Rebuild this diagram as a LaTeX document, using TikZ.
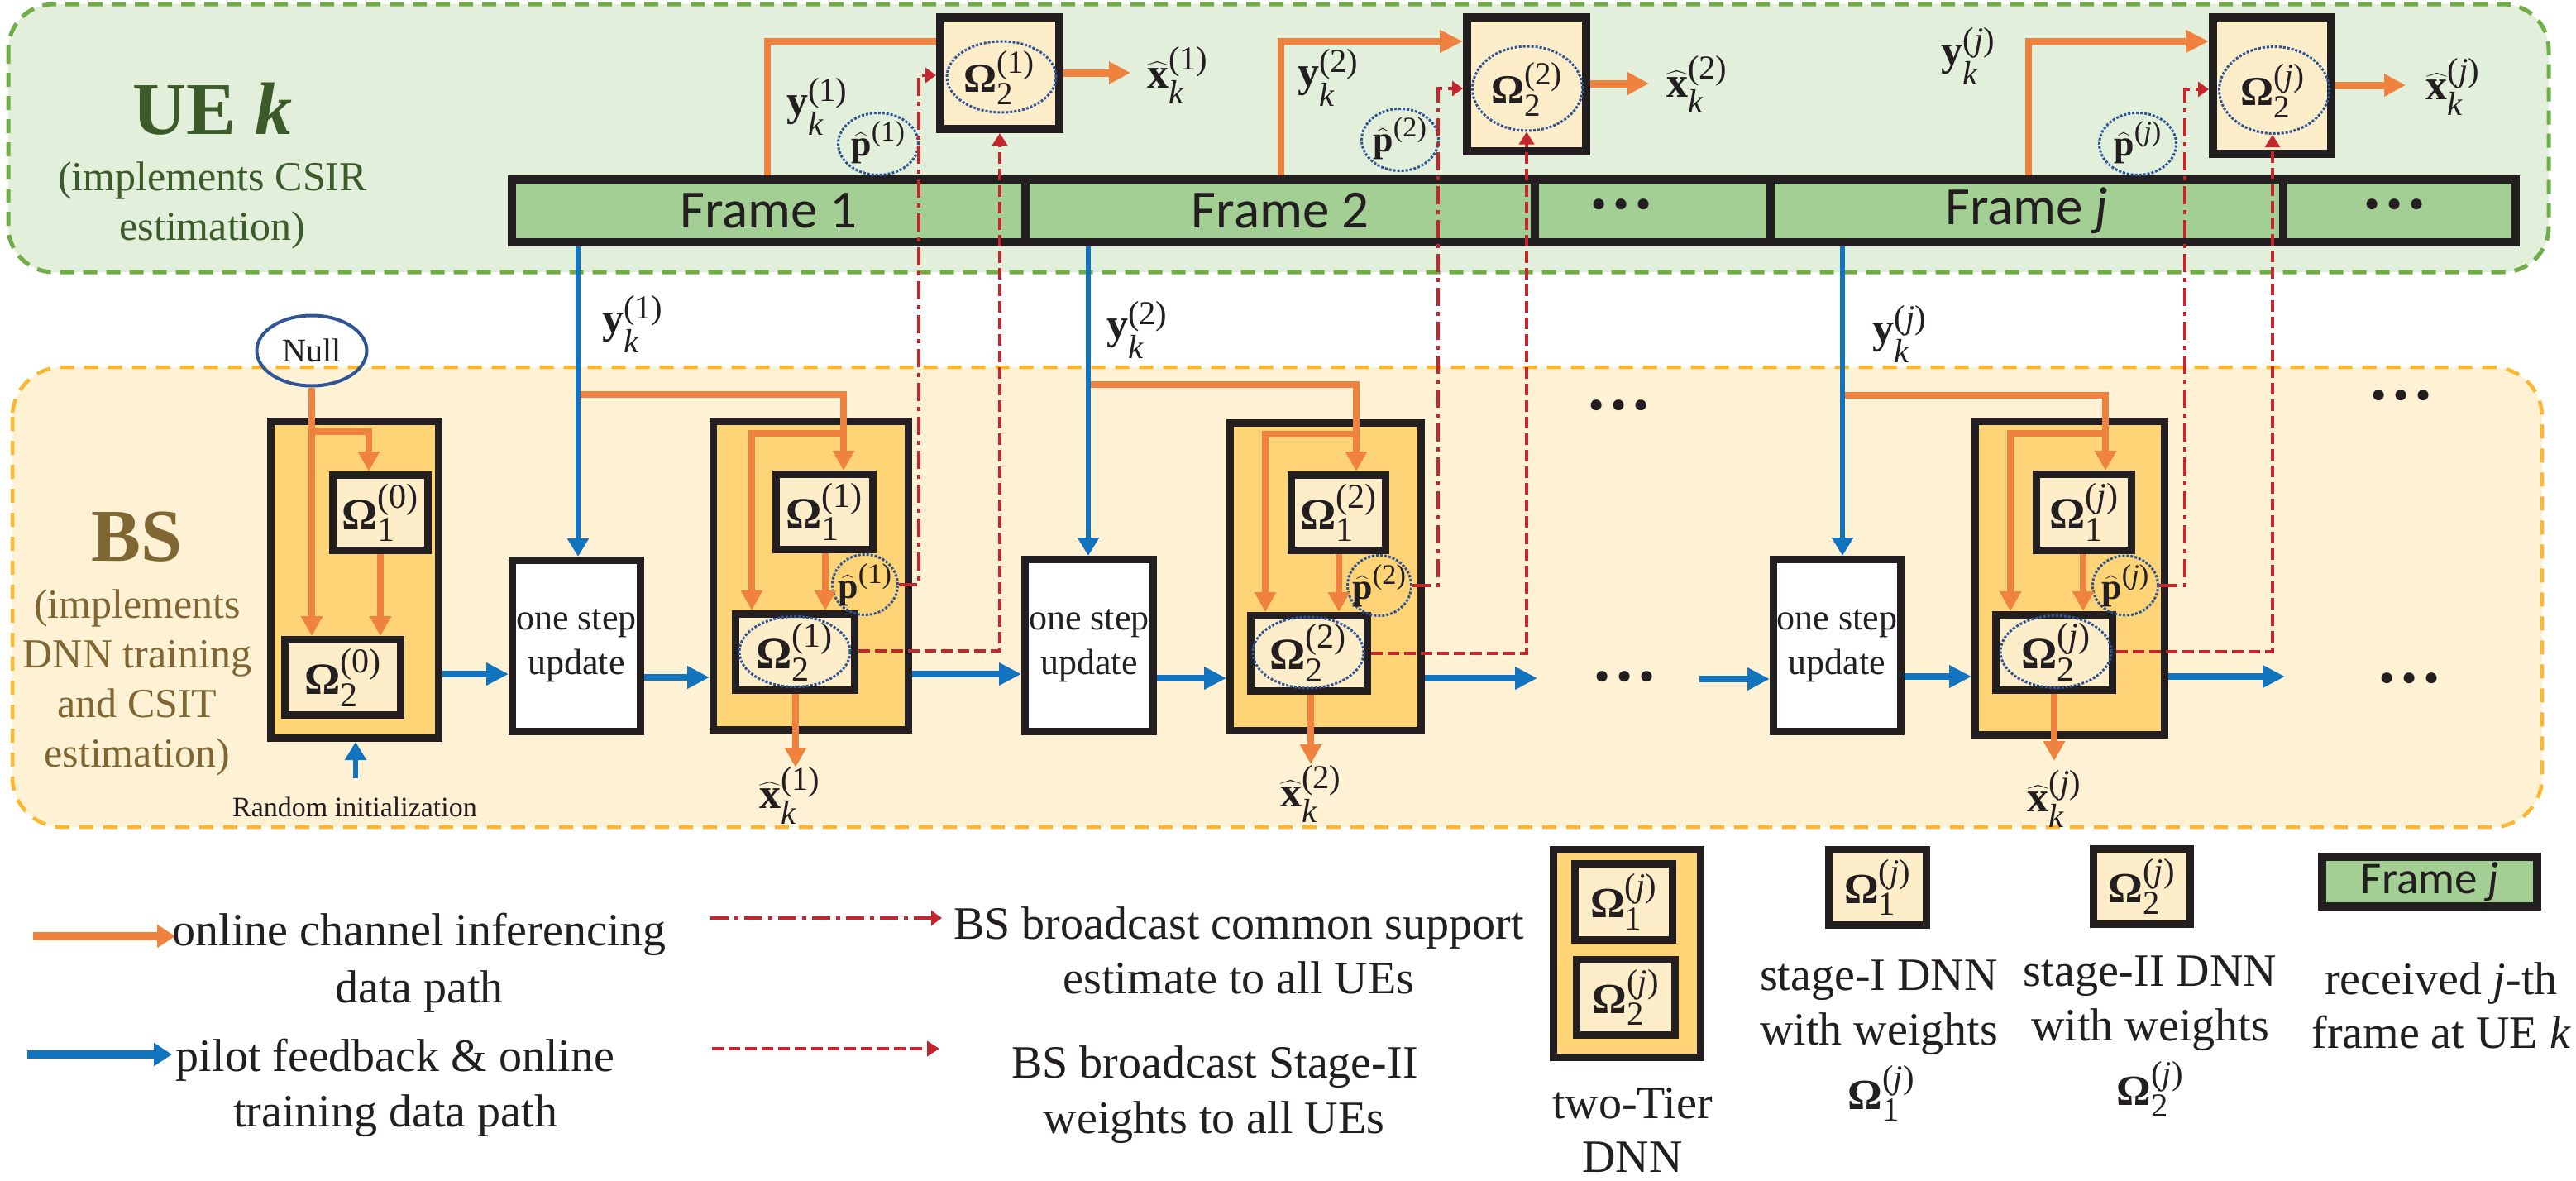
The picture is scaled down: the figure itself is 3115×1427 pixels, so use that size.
\documentclass[tikz,border=0pt]{standalone}
\usepackage{amsmath}
\usepackage[no-math]{fontspec}
\setmainfont{Liberation Serif}
\newfontfamily\calib{Carlito}
\usetikzlibrary{arrows.meta,shapes.geometric}
\renewcommand{\defaultscriptratio}{.78}
\definecolor{uefill}{HTML}{E2EFDA}
\definecolor{uedash}{HTML}{70AD47}
\definecolor{bsfill}{HTML}{FFF1D4}
\definecolor{bsdash}{HTML}{FBB72F}
\definecolor{tierc}{HTML}{FED477}
\definecolor{cream}{HTML}{FEEDC9}
\definecolor{framec}{HTML}{A3CF94}
\definecolor{orng}{HTML}{F0823F}
\definecolor{blu}{HTML}{1273BE}
\definecolor{rd}{HTML}{C4262E}
\definecolor{ellb}{HTML}{2F5597}
\definecolor{dark}{HTML}{231F20}
\definecolor{uegreen}{HTML}{3D5A2A}
\definecolor{bsbrown}{HTML}{7F6633}
\newcommand{\Om}[2]{$\text{\bfseries Ω}_{\text{#1}}^{\text{(#2)}}$}
\newcommand{\yk}[1]{$\text{\bfseries y}_{\text{\itshape k}}^{\text{(#1)}}$}
\newcommand{\xk}[1]{$\widehat{\text{\bfseries x}}_{\text{\itshape k}}^{\text{(#1)}}$}
\newcommand{\ph}[1]{$\widehat{\text{\bfseries p}}^{\text{(#1)}}$}
\newcommand{\jj}{\textit{j}}
\newcommand{\bnode}[7]{\node[#2, minimum width={#5-#3-9}, minimum height={#6-#4-9}] (#1) at ({(#3+#5)/2},{(#4+#6)/2}) {#7};}
\begin{document}
\begin{tikzpicture}[x=1pt,y=-1pt,
  tbox/.style={draw=dark, line width=9pt, fill=tierc, inner sep=0pt},
  ibox/.style={draw=dark, line width=9pt, fill=cream, inner sep=0pt},
  ubox/.style={draw=dark, line width=10pt, fill=cream, inner sep=0pt},
  obox/.style={draw=dark, line width=9pt, fill=white, inner sep=0pt, align=center, font=\fontsize{44}{54}\selectfont, text=dark},
  frm/.style={draw=dark, line width=10pt, fill=framec, inner sep=0pt, text=dark, font=\calib\fontsize{65}{65}\selectfont},
  ell/.style={ellipse, draw=ellb, line width=3pt, dash pattern=on 3pt off 2pt, inner sep=0pt},
  lab/.style={inner sep=0pt, text=dark},
  mth/.style={lab, font=\fontsize{52}{52}\selectfont},
  mthb/.style={lab, font=\fontsize{54}{54}\selectfont},
  mthp/.style={lab, font=\fontsize{44}{44}\selectfont},
  lg/.style={lab, anchor=base, font=\fontsize{56}{56}\selectfont},
  dots/.style={lab, font=\bfseries\fontsize{80}{80}\selectfont},
  orT/.style={draw=orng, line width=8pt, -{Triangle[length=24pt,width=25pt]}},
  orU/.style={draw=orng, line width=8pt},
  orUT/.style={draw=orng, line width=8pt, -{Triangle[length=28pt,width=26pt]}},
  orO/.style={draw=orng, line width=9pt, -{Triangle[length=26pt,width=26pt]}},
  orL/.style={draw=orng, line width=10pt, -{Triangle[length=22pt,width=27pt]}},
  blT/.style={draw=blu, line width=6pt, -{Triangle[length=22pt,width=25pt]}},
  blO/.style={draw=blu, line width=8pt, -{Triangle[length=27pt,width=26pt]}},
  blL/.style={draw=blu, line width=10pt, -{Triangle[length=22pt,width=27pt]}},
  rdd/.style={draw=rd, line width=4.5pt, dash pattern=on 22pt off 7pt on 5pt off 7pt, -{Triangle[length=13pt,width=18pt]}},
  rda/.style={draw=rd, line width=4.5pt, dash pattern=on 14pt off 6pt, -{Triangle[length=15pt,width=18pt]}}
]
\useasboundingbox (0,0) rectangle (3115,1427);
\fill[white] (0,0) rectangle (3115,1427);
% regions
\draw[draw=uedash, fill=uefill, line width=5pt, dash pattern=on 17pt off 11pt, rounded corners=55pt] (10,5) rectangle (3082,329);
\draw[draw=bsdash, fill=bsfill, line width=4.5pt, dash pattern=on 17pt off 12pt, rounded corners=60pt] (15,444) rectangle (3074,1000);
% titles
\node[lab, text=uegreen, font=\bfseries\fontsize{90}{90}\selectfont, anchor=base] (uet) at (257,162) {UE \textit{k}};
\node[lab, text=uegreen, font=\fontsize{50}{50}\selectfont, anchor=base] (uet2) at (257,230) {(implements CSIR};
\node[lab, text=uegreen, font=\fontsize{50}{50}\selectfont, anchor=base] (uet3) at (257,290) {estimation)};
\node[lab, text=bsbrown, font=\bfseries\fontsize{90}{90}\selectfont, anchor=base] (bst) at (166,678) {BS};
\node[lab, text=bsbrown, font=\fontsize{50}{50}\selectfont, anchor=base] (bs1) at (166,747) {(implements};
\node[lab, text=bsbrown, font=\fontsize{50}{50}\selectfont, anchor=base] (bs2) at (166,807) {DNN training};
\node[lab, text=bsbrown, font=\fontsize{50}{50}\selectfont, anchor=base] (bs3) at (166,867) {and CSIT};
\node[lab, text=bsbrown, font=\fontsize{50}{50}\selectfont, anchor=base] (bs4) at (166,927) {estimation)};
% frames
\node[frm, minimum width=621pt, minimum height=76pt] (f1) at (929.5,255) {Frame 1};
\node[frm, minimum width=616pt, minimum height=76pt] (f2) at (1548,255) {Frame 2};
\node[frm, minimum width=285pt, minimum height=76pt] (fd1) at (1998.5,255) {};
\node[frm, minimum width=620pt, minimum height=76pt] (fj) at (2451,255) {Frame \textit{j}};
\node[frm, minimum width=281pt, minimum height=76pt] (fd2) at (2901.5,255) {};
\node[dots] (dt1) at (1960,247) {…};
\node[dots] (dt2) at (2895,247) {…};
% UE boxes
\node[ubox, minimum width=144pt, minimum height=135pt] (u1) at (1209,88.5) {};
\node[ubox, minimum width=144pt, minimum height=162pt] (u2) at (1846,102) {};
\node[ubox, minimum width=143pt, minimum height=165pt] (uj) at (2747.5,103.5) {};
% BS tier boxes
\bnode{t0}{tbox}{323}{505}{535}{897}{}
\bnode{t1}{tbox}{858}{505}{1103}{887}{}
\bnode{t2}{tbox}{1483}{507}{1723}{888}{}
\bnode{tj}{tbox}{2384}{505}{2622}{893}{}
\bnode{a0}{ibox}{398}{570}{522}{670}{}
\bnode{a1}{ibox}{934}{569}{1060}{669}{}
\bnode{a2}{ibox}{1557}{570}{1680}{670}{}
\bnode{aj}{ibox}{2458}{569}{2582}{670}{}
\bnode{b0}{ibox}{340}{769}{489}{869}{}
\bnode{b1}{ibox}{885}{738}{1038}{839}{}
\bnode{b2}{ibox}{1508}{740}{1658}{840}{}
\bnode{bj}{ibox}{2409}{739}{2559}{839}{}
\bnode{s1}{obox}{615}{673}{779}{889}{one step\\update}
\bnode{s2}{obox}{1235}{672}{1399}{889}{one step\\update}
\bnode{sj}{obox}{2140}{672}{2303}{889}{one step\\update}
% legend boxes
\bnode{lt}{tbox}{1874}{1023}{2061}{1283}{}
\bnode{lt1}{ibox}{1900}{1040}{2027}{1141}{}
\bnode{lt2}{ibox}{1902}{1156}{2030}{1256}{}
\bnode{lw1}{ibox}{2207}{1023}{2334}{1123}{}
\bnode{lw2}{ibox}{2527}{1022}{2653}{1122}{}
\node[frm, minimum width=260pt, minimum height=60pt, font=\calib\fontsize{55}{55}\selectfont] (lfr) at (2938,1066) {Frame \textit{j}};
% ellipses
\node[ell, minimum width=132pt, minimum height=86pt] (e1) at (1211,93) {};
\node[ell, minimum width=133pt, minimum height=102pt] (e2) at (1847,107) {};
\node[ell, minimum width=133pt, minimum height=105pt] (ej) at (2750,109) {};
\node[ell, minimum width=97pt, minimum height=75pt] (pu1) at (1062,174) {};
\node[ell, minimum width=93pt, minimum height=75pt] (pu2) at (1693,169) {};
\node[ell, minimum width=93pt, minimum height=75pt] (puj) at (2585,174) {};
\node[ell, minimum width=134pt, minimum height=85pt] (g1) at (961,788) {};
\node[ell, minimum width=134pt, minimum height=86pt] (g2) at (1582,789) {};
\node[ell, minimum width=134pt, minimum height=87pt] (gj) at (2486,788) {};
\node[ell, minimum width=79pt, minimum height=73pt] (p1) at (1046,707) {};
\node[ell, minimum width=77pt, minimum height=73pt] (p2) at (1668,708) {};
\node[ell, minimum width=79pt, minimum height=72pt] (pj) at (2570,708) {};
\node[ellipse, draw=ellb, line width=4pt, minimum width=133pt, minimum height=85pt, inner sep=0pt, text=dark, font=\fontsize{40}{40}\selectfont] (nl) at (377,424) {Null};
% coordinates
\coordinate (k1) at (928,50); \coordinate (k2) at (1549,50); \coordinate (kj) at (2453,50);
\coordinate (xo1) at (1367,88); \coordinate (xo2) at (1994,101); \coordinate (xoj) at (2909,103);
\coordinate (r1) at (1111,707); \coordinate (r1t) at (1111,91);
\coordinate (r2) at (1739,708); \coordinate (r2t) at (1739,107);
\coordinate (rj) at (2642,708); \coordinate (rjt) at (2642,108);
\coordinate (q1) at (1209,787); \coordinate (q2) at (1846,790); \coordinate (qj) at (2748,788);
\coordinate (n1) at (377,522); \coordinate (n2) at (446,522); \coordinate (m0) at (460,700);
\coordinate (bl1) at (699,477); \coordinate (c1) at (1020,477); \coordinate (d1) at (1020,524); \coordinate (d1b) at (909,524); \coordinate (m1) at (998,700); \coordinate (xb1) at (962,928);
\coordinate (bl2) at (1316,465); \coordinate (c2) at (1640,465); \coordinate (d2) at (1640,525); \coordinate (d2b) at (1530,525); \coordinate (m2) at (1619,700); \coordinate (xb2) at (1585,924);
\coordinate (blj) at (2228,478); \coordinate (cj) at (2546,478); \coordinate (dj) at (2546,524); \coordinate (djb) at (2431,524); \coordinate (mj) at (2519,700); \coordinate (xbj) at (2484,920);
\coordinate (h1) at (0,815); \coordinate (h2) at (0,819); \coordinate (h3) at (0,815); \coordinate (h4) at (0,820);
\coordinate (h5) at (1859,820); \coordinate (h6) at (2055,821); \coordinate (h7) at (0,818); \coordinate (h8) at (2763,818);
\coordinate (ri) at (430,941);
% UE orange
\draw[orU] (f1.north -| k1) -- (k1) -- (k1 -| u1.west);
\draw[orUT] (f2.north -| k2) -- (k2) -- (k2 -| u2.west);
\draw[orUT] (fj.north -| kj) -- (kj) -- (kj -| uj.west);
\draw[orO] (u1.east |- xo1) -- (xo1);
\draw[orO] (u2.east |- xo2) -- (xo2);
\draw[orO] (uj.east |- xoj) -- (xoj);
% BS orange
\draw[orT] (nl.south) -- (nl.south |- b0.north);
\draw[orT] (n1) -- (n2) -- (n2 |- a0.north);
\draw[orT] (a0.south -| m0) -- (b0.north -| m0);
\draw[orT] (bl1) -- (c1) -- (c1 |- a1.north);
\draw[orT] (d1) -- (d1b) -- (d1b |- b1.north);
\draw[orT] (a1.south -| m1) -- (b1.north -| m1);
\draw[orT] (b1.south -| xb1) -- (xb1);
\draw[orT] (bl2) -- (c2) -- (c2 |- a2.north);
\draw[orT] (d2) -- (d2b) -- (d2b |- b2.north);
\draw[orT] (a2.south -| m2) -- (b2.north -| m2);
\draw[orT] (b2.south -| xb2) -- (xb2);
\draw[orT] (blj) -- (cj) -- (cj |- aj.north);
\draw[orT] (dj) -- (djb) -- (djb |- bj.north);
\draw[orT] (aj.south -| mj) -- (bj.north -| mj);
\draw[orT] (bj.south -| xbj) -- (xbj);
% blue
\draw[blT] (f1.south -| bl1) -- (s1.north -| bl1);
\draw[blT] (f2.south -| bl2) -- (s2.north -| bl2);
\draw[blT] (fj.south -| blj) -- (sj.north -| blj);
\draw[blO] (t0.east |- h1) -- (s1.west |- h1);
\draw[blO] (s1.east |- h2) -- (t1.west |- h2);
\draw[blO] (t1.east |- h3) -- (s2.west |- h3);
\draw[blO] (s2.east |- h4) -- (t2.west |- h4);
\draw[blO] (t2.east |- h5) -- (h5);
\draw[blO] (h6) -- (sj.west |- h6);
\draw[blO] (sj.east |- h7) -- (tj.west |- h7);
\draw[blO] (tj.east |- h8) -- (h8);
\draw[blT] (ri) -- (ri |- t0.south);
% red
\draw[rdd] (p1.east) -- (p1.east -| r1) -- (r1t) -- (r1t -| u1.west);
\draw[rdd] (p2.east) -- (p2.east -| r2) -- (r2t) -- (r2t -| u2.west);
\draw[rdd] (pj.east) -- (pj.east -| rj) -- (rjt) -- (rjt -| uj.west);
\draw[rda] (b1.east |- q1) -- (q1) -- (q1 |- u1.south);
\draw[rda] (b2.east |- q2) -- (q2) -- (q2 |- e2.south);
\draw[rda] (bj.east |- qj) -- (qj) -- (qj |- ej.south);
% labels UE
\node[mth, font=\fontsize{50}{50}\selectfont] at (1208,94) {\Om{2}{1}};
\node[mth, font=\fontsize{50}{50}\selectfont] at (1846,108) {\Om{2}{2}};
\node[mth, font=\fontsize{50}{50}\selectfont] at (2748,110) {\Om{2}{\jj}};
\node[mthp] at (1062,172) {\ph{1}};
\node[mthp] at (1693,167) {\ph{2}};
\node[mthp] at (2585,172) {\ph{\jj}};
\node[mth] at (988,129) {\yk{1}};
\node[mth] at (1606,94) {\yk{2}};
\node[mth] at (2380,68) {\yk{\jj}};
\node[mth] at (1424,91) {\xk{1}};
\node[mth] at (2052,102) {\xk{2}};
\node[mth] at (2966,105) {\xk{\jj}};
\node[mth] at (765,392) {\yk{1}};
\node[mth] at (1375,399) {\yk{2}};
\node[mth] at (2297,404) {\yk{\jj}};
% labels BS
\node[mthb] at (a0) {\Om{1}{0}};
\node[mthb] at (b0) {\Om{2}{0}};
\node[mthb] at (a1) {\Om{1}{1}};
\node[mthb] at (g1) {\Om{2}{1}};
\node[mthb] at (a2) {\Om{1}{2}};
\node[mthb] at (g2) {\Om{2}{2}};
\node[mthb] at (aj) {\Om{1}{\jj}};
\node[mthb] at (gj) {\Om{2}{\jj}};
\node[mthp] at (p1) {\ph{1}};
\node[mthp] at (p2) {\ph{2}};
\node[mthp] at (pj) {\ph{\jj}};
\node[mth] at (955,962) {\xk{1}};
\node[mth] at (1585,960) {\xk{2}};
\node[mth] at (2484,966) {\xk{\jj}};
\node[lab, anchor=base, font=\fontsize{34}{34}\selectfont] (rin) at (429,987) {Random initialization};
\node[dots] at (1957,490) {…};
\node[dots] at (1964,818) {…};
\node[dots] at (2903,478) {…};
\node[dots] at (2913,820) {…};
% legend
\coordinate (lo1) at (40,1132); \coordinate (lo2) at (212,1132);
\coordinate (lb1) at (33,1275); \coordinate (lb2) at (208,1275);
\coordinate (lr1) at (859,1110); \coordinate (lr2) at (1139,1110);
\coordinate (ld1) at (861,1268); \coordinate (ld2) at (1136,1268);
\draw[orL] (lo1) -- (lo2);
\draw[blL] (lb1) -- (lb2);
\draw[rdd] (lr1) -- (lr2);
\draw[rda] (ld1) -- (ld2);
\node[lg] at (507,1143) {online channel inferencing};
\node[lg] at (507,1212) {data path};
\node[lg] at (478,1295) {pilot feedback \& online};
\node[lg] at (478,1362) {training data path};
\node[lg] at (1498,1135) {BS broadcast common support};
\node[lg] at (1498,1201) {estimate to all UEs};
\node[lg] at (1469,1303) {BS broadcast Stage-II};
\node[lg] at (1468,1370) {weights to all UEs};
\node[mth] at (lt1) {\Om{1}{\jj}};
\node[mth] at (lt2) {\Om{2}{\jj}};
\node[mth] at (lw1) {\Om{1}{\jj}};
\node[mth] at (lw2) {\Om{2}{\jj}};
\node[lg] at (1974,1352) {two-Tier};
\node[lg] at (1974,1417) {DNN};
\node[lg] at (2272,1197) {stage-I DNN};
\node[lg] at (2272,1263) {with weights};
\node[mth] at (2275,1322) {\Om{1}{\jj}};
\node[lg] at (2600,1192) {stage-II DNN};
\node[lg] at (2600,1258) {with weights};
\node[mth] at (2600,1317) {\Om{2}{\jj}};
\node[lg] at (2952,1202) {received \textit{j}-th};
\node[lg] at (2952,1267) {frame at UE \textit{k}};
\end{tikzpicture}
\end{document}
